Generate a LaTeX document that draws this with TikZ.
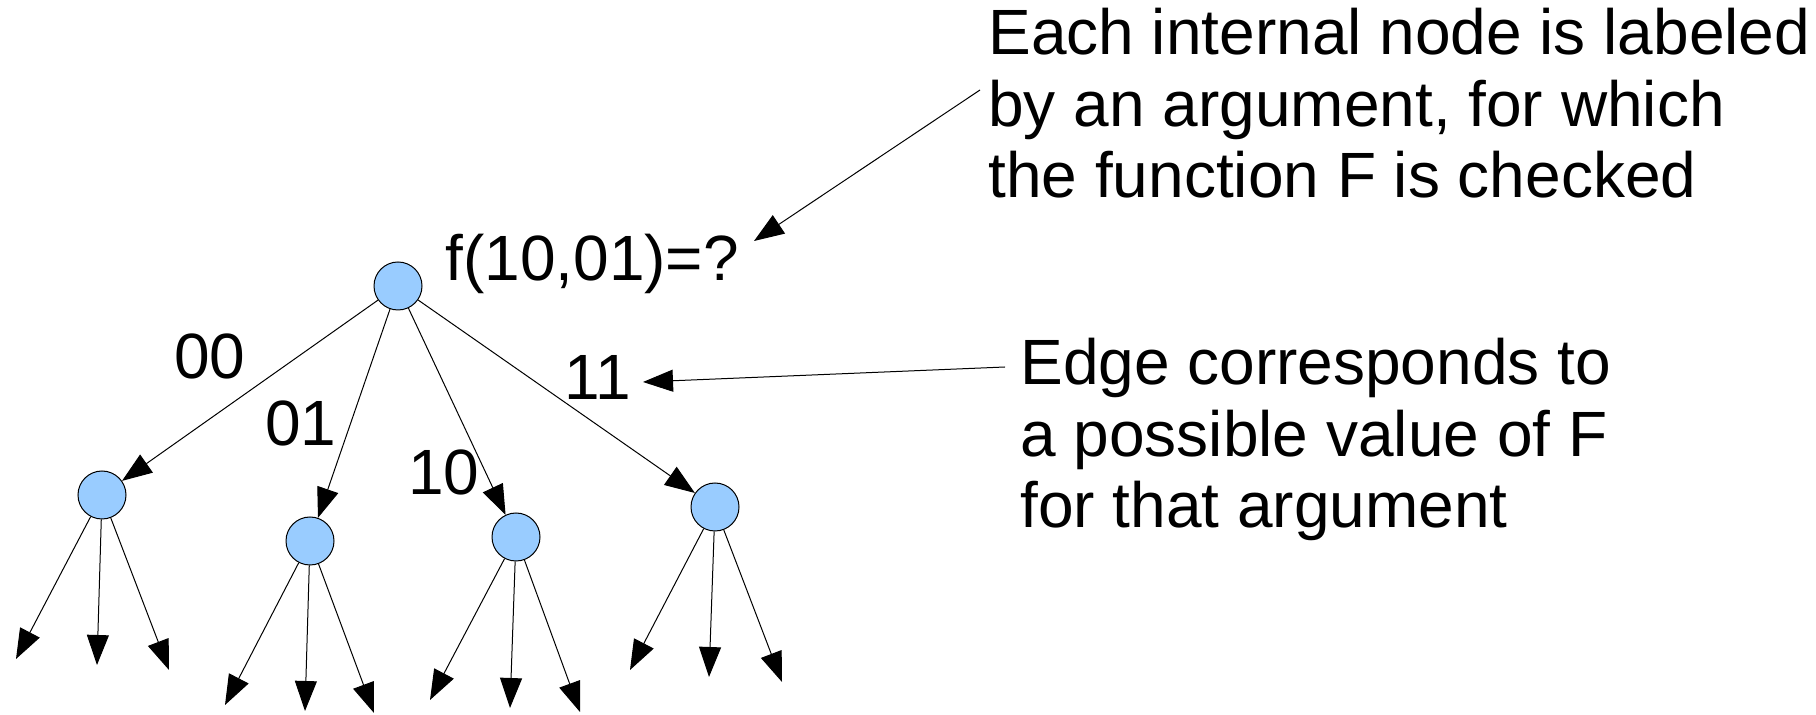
\documentclass[tikz,border=0pt]{standalone}
\usepackage{fontspec}
\setmainfont{Liberation Sans}
\usetikzlibrary{arrows.meta}
\definecolor{nodeblue}{RGB}{153,204,255}
\tikzset{
  vert/.style={circle, draw, fill=nodeblue, minimum size=24pt, inner sep=0pt, line width=0.5pt},
  arr/.style={-{Triangle[length=15pt,width=11pt]}, line width=0.5pt},
  lbl/.style={anchor=base west, inner sep=0pt, font=\fontsize{32}{35.8}\selectfont},
}
\begin{document}
\begin{tikzpicture}[x=0.5pt, y=-0.5pt]
        \useasboundingbox (0,0) rectangle (1816,715);

        % Root and children
        \node[vert] (root) at (398,286) {};
        \node[vert] (c00) at (102,495) {};
        \node[vert] (c01) at (310,541) {};
        \node[vert] (c10) at (516,537) {};
        \node[vert] (c11) at (715,507) {};

        % Edges
        \draw[arr] (root) -- (c00);
        \draw[arr] (root) -- (c01);
        \draw[arr] (root) -- (c10);
        \draw[arr] (root) -- (c11);

        % Edge labels
        \node[lbl] (l00) at (174,379) {00};
        \node[lbl] (l01) at (265,446) {01};
        \node[lbl] (l10) at (408,495) {10};
        \node[lbl] (l11) at (564,400) {11};
        \node[lbl] (query) at (445,281) {f(10,01)=?};

        % Leaf ends
        \coordinate (a1) at (16,659);
        \coordinate (a2) at (97,665);
        \coordinate (a3) at (169,670);
        \coordinate (b1) at (225,705);
        \coordinate (b2) at (305,711);
        \coordinate (b3) at (374,713);
        \coordinate (d1) at (430,700);
        \coordinate (d2) at (510,708);
        \coordinate (d3) at (580,712);
        \coordinate (e1) at (630,670);
        \coordinate (e2) at (709,677);
        \coordinate (e3) at (782,682);

        % Leaf arrows
        \draw[arr] (c00) -- (a1);
        \draw[arr] (c00) -- (a2);
        \draw[arr] (c00) -- (a3);
        \draw[arr] (c01) -- (b1);
        \draw[arr] (c01) -- (b2);
        \draw[arr] (c01) -- (b3);
        \draw[arr] (c10) -- (d1);
        \draw[arr] (c10) -- (d2);
        \draw[arr] (c10) -- (d3);
        \draw[arr] (c11) -- (e1);
        \draw[arr] (c11) -- (e2);
        \draw[arr] (c11) -- (e3);

        % Notes (base is the last line)
        \node[lbl, align=left] (note1) at (988,198) {Each internal node is labeled\\by an argument, for which\\the function F is checked};
        \node[lbl, align=left] (note2) at (1020,528) {Edge corresponds to\\a possible value of F\\for that argument};

        % Note arrows
        \coordinate (from1) at (980,90);
        \coordinate (to1) at (754,241);
        \coordinate (from2) at (1005,367);
        \coordinate (to2) at (643,382);
        \draw[arr] (from1) -- (to1);
        \draw[arr] (from2) -- (to2);
    \end{tikzpicture}
\end{document}
